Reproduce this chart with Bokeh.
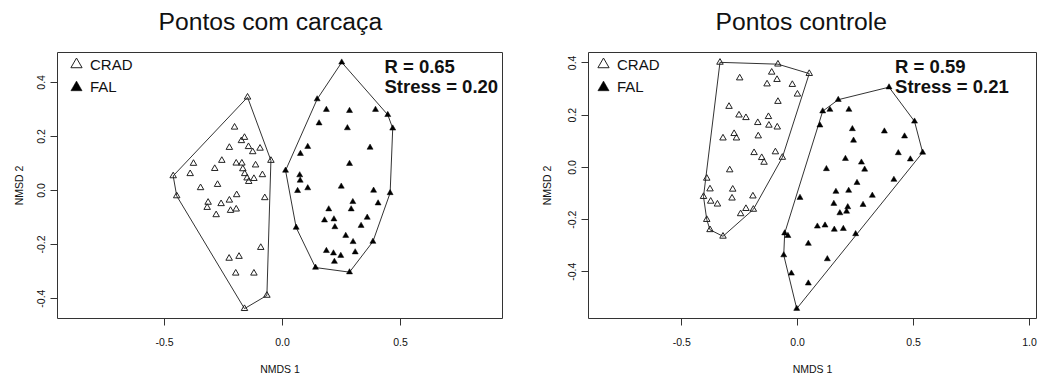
import numpy as np
from bokeh.plotting import figure
from bokeh.layouts import row, column
from bokeh.models import (Range1d, FixedTicker, Label, Legend, LegendItem,
                          PrintfTickFormatter)
from bokeh.embed import file_html
from bokeh.resources import INLINE

FONT = "Liberation Sans"

# ---------------- data ----------------
titles = ["Pontos com carcaça", "Pontos controle"]
groups = ["CRAD", "FAL"]
r_values = [0.65, 0.59]
stress_values = [0.20, 0.21]

# Panel 1: Pontos com carcaça
carc_crad_x = [-0.148, -0.203, -0.161, -0.174, -0.225, -0.144, -0.126, -0.095, -0.049,
               -0.377, -0.257, -0.196, -0.172, -0.287, -0.114, -0.168, -0.391, -0.160,
               -0.463, -0.085, -0.150, -0.121, -0.143, -0.275, -0.347, -0.448, -0.194,
               -0.075, -0.225, -0.315, -0.260, -0.319, -0.196, -0.220, -0.281, -0.092,
               -0.226, -0.184, -0.198, -0.121, -0.066, -0.161]
carc_crad_y = [0.345, 0.234, 0.196, 0.184, 0.159, 0.162, 0.143, 0.156, 0.111,
               0.100, 0.111, 0.101, 0.101, 0.081, 0.094, 0.080, 0.062, 0.062,
               0.054, 0.058, 0.046, 0.044, 0.033, 0.022, 0.010, -0.020, -0.016,
               -0.027, -0.036, -0.044, -0.049, -0.063, -0.069, -0.074, -0.090, -0.211,
               -0.251, -0.244, -0.306, -0.306, -0.388, -0.437]
carc_fal_x = [0.251, 0.147, 0.186, 0.284, 0.394, 0.446, 0.467, 0.155, 0.275, 0.107,
              0.371, 0.076, 0.284, 0.013, 0.073, 0.075, 0.064, 0.107, 0.249, 0.386,
              0.456, 0.298, 0.405, 0.196, 0.291, 0.359, 0.178, 0.218, 0.333, 0.222,
              0.058, 0.268, 0.299, 0.383, 0.186, 0.216, 0.247, 0.308, 0.220, 0.140,
              0.284]
carc_fal_y = [0.474, 0.338, 0.299, 0.295, 0.299, 0.280, 0.230, 0.249, 0.231, 0.162,
              0.159, 0.136, 0.099, 0.074, 0.057, 0.037, -0.001, 0.009, 0.015, 0.000,
              -0.009, -0.042, -0.047, -0.069, -0.069, -0.100, -0.110, -0.106, -0.130, -0.135,
              -0.137, -0.167, -0.190, -0.189, -0.223, -0.232, -0.241, -0.228, -0.263, -0.285,
              -0.302]

# Panel 2: Pontos controle
ctrl_crad_x = [-0.335, -0.085, 0.050, -0.112, -0.250, -0.089, -0.132, -0.023, -0.001,
               -0.085, -0.296, -0.253, -0.223, -0.126, -0.172, -0.124, -0.088, -0.322,
               -0.274, -0.264, -0.170, -0.188, -0.155, -0.145, -0.096, -0.066, -0.293,
               -0.392, -0.378, -0.280, -0.406, -0.283, -0.193, -0.375, -0.346, -0.223,
               -0.191, -0.246, -0.392, -0.378, -0.322]
ctrl_crad_y = [0.402, 0.395, 0.359, 0.364, 0.342, 0.336, 0.319, 0.317, 0.280,
               0.252, 0.233, 0.200, 0.190, 0.194, 0.171, 0.161, 0.154, 0.112,
               0.129, 0.112, 0.120, 0.056, 0.037, 0.019, 0.059, 0.038, -0.010,
               -0.042, -0.083, -0.084, -0.112, -0.118, -0.110, -0.130, -0.141, -0.158,
               -0.161, -0.178, -0.200, -0.239, -0.264]
ctrl_fal_x = [0.394, 0.175, 0.108, 0.139, 0.221, 0.504, 0.096, 0.236, 0.374, 0.461,
              0.241, 0.539, 0.434, 0.486, 0.206, 0.275, 0.289, 0.124, 0.415, 0.256,
              0.165, 0.220, 0.322, 0.010, 0.156, 0.282, 0.216, 0.211, 0.182, 0.085,
              0.118, 0.158, 0.197, 0.250, -0.056, -0.042, 0.046, -0.060, 0.128, -0.027,
              0.046, -0.004]
ctrl_fal_y = [0.307, 0.259, 0.215, 0.221, 0.221, 0.176, 0.161, 0.147, 0.138, 0.119,
              0.103, 0.057, 0.055, 0.031, 0.033, 0.019, -0.008, -0.006, -0.047, -0.059,
              -0.093, -0.089, -0.108, -0.116, -0.139, -0.143, -0.152, -0.169, -0.175, -0.226,
              -0.222, -0.238, -0.235, -0.255, -0.252, -0.262, -0.292, -0.336, -0.351, -0.406,
              -0.444, -0.541]

x_limits = [[-0.953, 0.932], [-0.902, 1.030]]
x_ticks = [[-0.5, 0.0, 0.5], [-0.5, 0.0, 0.5, 1.0]]
x_tick_labels = [["-0.5", "0.0", "0.5"], ["-0.5", "0.0", "0.5", "1.0"]]
y_ticks = [-0.4, -0.2, 0.0, 0.2, 0.4]
y_tick_labels = ["-0.4", "-0.2", "0.0", "0.2", "0.4"]

TITLE_H = 44
PLOT_H = 378 - TITLE_H
FRAME_H = 266


def convex_hull(xs, ys):
    pts = sorted(set(zip(xs, ys)))

    def cross(o, a, b):
        return (a[0] - o[0]) * (b[1] - o[1]) - (a[1] - o[1]) * (b[0] - o[0])

    lower = []
    for pt in pts:
        while len(lower) >= 2 and cross(lower[-2], lower[-1], pt) <= 0:
            lower.pop()
        lower.append(pt)
    upper = []
    for pt in reversed(pts):
        while len(upper) >= 2 and cross(upper[-2], upper[-1], pt) <= 0:
            upper.pop()
        upper.append(pt)
    h = lower[:-1] + upper[:-1]
    return [q[0] for q in h], [q[1] for q in h]


def make_title(i, width, title_left):
    t = figure(width=width, height=TITLE_H, output_backend="svg", toolbar_location=None,
               x_range=Range1d(0, width), y_range=Range1d(0, TITLE_H),
               x_axis_location=None, y_axis_location=None,
               min_border=0, min_border_left=0, min_border_right=0,
               min_border_top=0, min_border_bottom=0)
    t.grid.visible = False
    t.outline_line_color = None
    t.background_fill_color = "white"
    t.border_fill_color = "white"
    t.add_layout(Label(x=title_left, y=TITLE_H - 21.4, text=titles[i], text_font=FONT,
                       text_font_size="24.7px", text_baseline="middle",
                       text_align="left", text_color="#111111"))
    return t


def make_panel(i, crad_x, crad_y, fal_x, fal_y, width, bl, br,
               legend_dx, stats_x, ylab_standoff):
    ally = crad_y + fal_y
    lo, hi = min(ally), max(ally)
    pad = 0.04 * (hi - lo)
    y0, y1 = lo - pad, hi + pad
    p = figure(width=width, height=PLOT_H, output_backend="svg", toolbar_location=None,
               x_range=Range1d(*x_limits[i]), y_range=Range1d(y0, y1),
               min_border_left=bl, min_border_right=br, min_border_top=52 - TITLE_H,
               min_border_bottom=60)
    p.grid.visible = False
    p.outline_line_color = "#333333"
    p.outline_line_width = 1
    p.background_fill_color = "white"
    p.border_fill_color = "white"

    for ax in (p.xaxis[0], p.yaxis[0]):
        ax.axis_line_color = None
        ax.major_tick_line_color = "#333333"
        ax.major_tick_out = 7
        ax.major_tick_in = 0
        ax.minor_tick_line_color = None
        ax.major_label_text_font = FONT
        ax.major_label_text_font_size = "10.5px"
        ax.major_label_text_color = "#111111"
        ax.axis_label_text_font = FONT
        ax.axis_label_text_font_size = "10.5px"
        ax.axis_label_text_font_style = "normal"
        ax.axis_label_text_color = "#111111"
        ax.formatter = PrintfTickFormatter(format="%.1f")

    p.xaxis.ticker = FixedTicker(ticks=x_ticks[i])
    p.xaxis.major_label_overrides = dict(zip(x_ticks[i], x_tick_labels[i]))
    p.xaxis.axis_label = "NMDS 1"
    p.xaxis.major_label_standoff = 12
    p.xaxis.axis_label_standoff = 14

    p.yaxis.ticker = FixedTicker(ticks=y_ticks)
    p.yaxis.major_label_overrides = dict(zip(y_ticks, y_tick_labels))
    p.yaxis.axis_label = "NMSD 2"
    p.yaxis.major_label_orientation = "vertical"
    p.yaxis.major_label_standoff = 5
    p.yaxis.axis_label_standoff = ylab_standoff

    for hx_src, hy_src in ((crad_x, crad_y), (fal_x, fal_y)):
        hx, hy = convex_hull(hx_src, hy_src)
        p.patch(hx, hy, fill_color=None, line_color="#333333", line_width=1)

    r_crad = p.scatter(crad_x, crad_y, marker="triangle", size=6.5,
                       fill_color=None, line_color="#222222", line_width=1)
    r_fal = p.scatter(fal_x, fal_y, marker="triangle", size=6,
                      fill_color="black", line_color="black", line_width=0.5)

    for k, (rend, lab) in enumerate(((r_crad, groups[0]), (r_fal, groups[1]))):
        center_from_top = 12 + 22.7 * k
        vy = FRAME_H - (center_from_top - 14) - 28
        leg = Legend(items=[LegendItem(label=lab, renderers=[rend])],
                     location=(legend_dx, vy), glyph_width=28, glyph_height=28,
                     padding=0, margin=0, label_standoff=0, spacing=0,
                     border_line_color=None, background_fill_alpha=0,
                     label_text_font=FONT, label_text_font_size="15px",
                     label_text_color="#111111")
        p.add_layout(leg, "center")

    # stats text, vertical centre placed at pixel offsets below the frame top
    per_px = (y1 - y0) / FRAME_H
    texts = ["R = %.2f" % r_values[i], "Stress = %.2f" % stress_values[i]]
    for txt, off in zip(texts, (14.3, 33.8)):
        p.add_layout(Label(x=stats_x, y=y1 - off * per_px, text=txt,
                           text_font=FONT, text_font_size="18.5px",
                           text_font_style="bold", text_baseline="middle",
                           text_align="left", text_color="#111111"))
    return p


t1 = make_title(0, 520, 158)
t2 = make_title(1, 518, 715 - 520)
p1 = make_panel(0, carc_crad_x, carc_crad_y, carc_fal_x, carc_fal_y,
                width=520, bl=57, br=18, legend_dx=5, stats_x=0.432, ylab_standoff=10)
p2 = make_panel(1, ctrl_crad_x, ctrl_crad_y, ctrl_fal_x, ctrl_fal_y,
                width=518, bl=68, br=2, legend_dx=1, stats_x=0.42, ylab_standoff=13)

layout = column(row(t1, t2), row(p1, p2))
open("out.html", "w").write(file_html(layout, INLINE))
